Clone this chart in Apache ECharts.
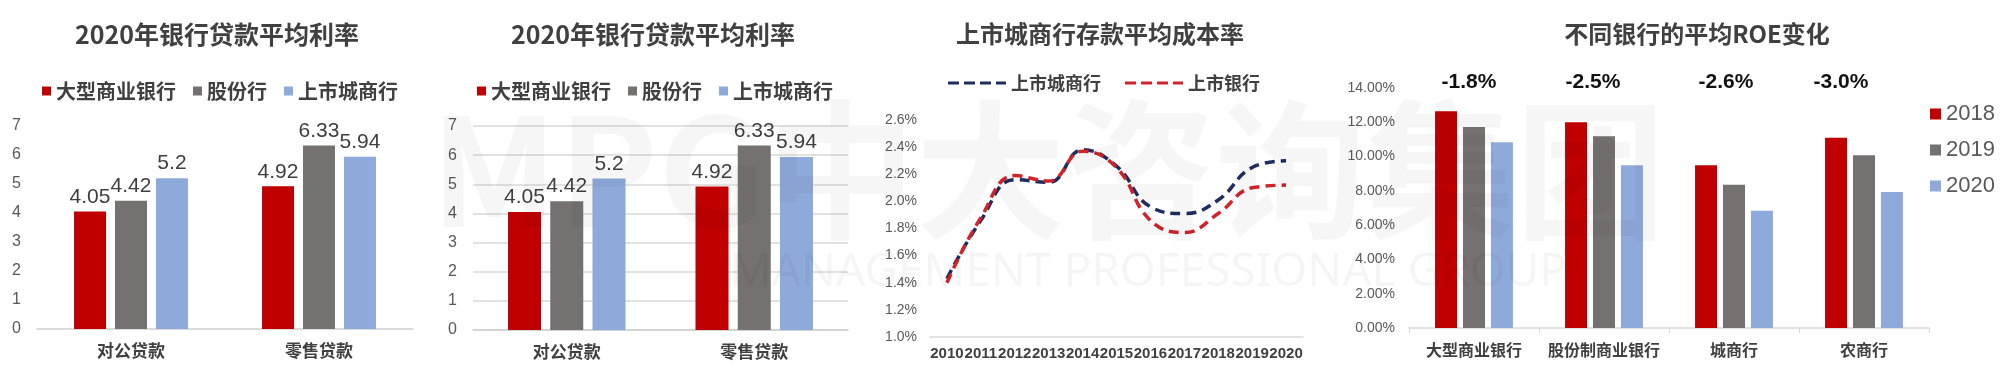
<!DOCTYPE html>
<html>
<head>
<meta charset="utf-8">
<script src="https://cdn.jsdelivr.net/npm/echarts@6/dist/echarts.min.js"></script>
<style>
html,body{margin:0;padding:0;background:#fff;}
#c{width:2000px;height:386px;}
</style>
</head>
<body>
<div id="c"></div>
<script>
// ---- data ----
const loanCats = ['对公贷款', '零售贷款'];
const loanNames = ['大型商业银行', '股份行', '上市城商行'];
const loanBig = [4.05, 4.92];
const loanShare = [4.42, 6.33];
const loanCity = [5.2, 5.94];

const years = ['2010','2011','2012','2013','2014','2015','2016','2017','2018','2019','2020'];
const depNames = ['上市城商行', '上市银行'];
const depCity = [1.43, 1.86, 2.16, 2.14, 2.38, 2.26, 1.96, 1.91, 2.01, 2.25, 2.30];
const depListed = [1.40, 1.88, 2.19, 2.15, 2.37, 2.25, 1.86, 1.77, 1.91, 2.10, 2.12];

const roeCats = ['大型商业银行', '股份制商业银行', '城商行', '农商行'];
const roeYears = ['2018', '2019', '2020'];
const roe2018 = [12.64, 12.0, 9.49, 11.1];
const roe2019 = [11.72, 11.18, 8.36, 10.08];
const roe2020 = [10.83, 9.49, 6.84, 7.93];
const roeChange = ['-1.8%', '-2.5%', '-2.6%', '-3.0%'];

// ---- style ----
const RED = '#c00000', GRAY = '#767171', BLUE = '#8eaadb';
const NAVY = '#1f2d5f', DRED = '#d2222a';
const CJK = '"Noto Sans CJK SC", sans-serif';
const LAT = '"Liberation Sans", Arial, sans-serif';
const TXT = '#404040';
const DASH_ICON = 'path://M0,0h11v3h-11zM16,0h11v3h-11zM32,0h11v3h-11zM48,0h10v3h-10z';

const chart = echarts.init(document.getElementById('c'), null, {renderer: 'canvas'});

function titleAt(text, cx, size) {
  return {text, left: cx, top: 22, padding: 0, textAlign: 'center',
    textStyle: {fontFamily: CJK, fontWeight: 'bold', fontSize: size, color: TXT}};
}
function barLabel() {
  return {show: true, position: 'top', distance: 4, color: TXT, fontSize: 21, fontFamily: LAT};
}
function loanSeries(gi) {
  const bw = gi === 0 ? 32 : 33;
  return [
    {name: loanNames[0], type: 'bar', xAxisIndex: gi, yAxisIndex: gi, data: loanBig, barWidth: bw, barGap: '28%', itemStyle: {color: RED}, label: barLabel()},
    {name: loanNames[1], type: 'bar', xAxisIndex: gi, yAxisIndex: gi, data: loanShare, barWidth: bw, barGap: '28%', itemStyle: {color: GRAY}, label: barLabel()},
    {name: loanNames[2], type: 'bar', xAxisIndex: gi, yAxisIndex: gi, data: loanCity, barWidth: bw, barGap: '28%', itemStyle: {color: BLUE}, label: barLabel()}
  ];
}
function loanX(gi) {
  return {type: 'category', gridIndex: gi, data: loanCats,
    axisLine: {lineStyle: {color: '#d0d0d0', width: 1.5}}, axisTick: {show: false},
    axisLabel: {margin: 13, color: TXT, fontFamily: CJK, fontWeight: 'bold', fontSize: 17}};
}
function loanY(gi, grid) {
  return {type: 'value', gridIndex: gi, min: 0, max: 7, interval: 1,
    axisLine: {show: false}, axisTick: {show: false},
    splitLine: {show: grid, lineStyle: {color: '#d9d9d9', width: 1.5}},
    axisLabel: {margin: 16, color: '#595959', fontFamily: LAT, fontSize: 16}};
}
const legendText = {color: TXT, fontFamily: CJK, fontWeight: 'bold', fontSize: 20};

const graphics = [];
// watermark
graphics.push({type: 'text', left: 430, top: 95, silent: true, z: 100,
  style: {text: 'MPG中大咨询集团', font: 'bold 150px "Noto Sans CJK SC", sans-serif', fill: 'rgba(0,0,0,0.035)'}});
graphics.push({type: 'text', left: 730, top: 250, silent: true, z: 100,
  style: {text: 'MANAGEMENT PROFESSIONAL GROUP', font: '46px "Noto Sans", sans-serif', fill: 'rgba(0,0,0,0.04)'}});
// ROE change annotations
const chgX = [1469, 1593, 1726, 1841];
roeChange.forEach((t, i) => {
  graphics.push({type: 'text', x: chgX[i], y: 82, z: 50,
    style: {text: t, textAlign: 'center', textVerticalAlign: 'middle',
      font: 'bold 21px "Liberation Sans", Arial, sans-serif', fill: '#111'}});
});

const option = {
  backgroundColor: '#fff',
  animation: false,
  title: [
    titleAt('2020年银行贷款平均利率', 217, 25),
    titleAt('2020年银行贷款平均利率', 653, 25),
    titleAt('上市城商行存款平均成本率', 1100, 24),
    titleAt('不同银行的平均ROE变化', 1697, 24)
  ],
  legend: [
    {data: loanNames, left: 37, top: 76, itemWidth: 9, itemHeight: 9, itemGap: 17, icon: 'rect', textStyle: legendText, selectedMode: false},
    {data: loanNames, left: 472, top: 76, itemWidth: 9, itemHeight: 9, itemGap: 17, icon: 'rect', textStyle: legendText, selectedMode: false},
    {data: [
        {name: depNames[0], icon: DASH_ICON, itemStyle: {color: NAVY, borderWidth: 0}},
        {name: depNames[1], icon: DASH_ICON, itemStyle: {color: DRED, borderWidth: 0}}
      ],
      left: 943, top: 69, itemWidth: 58, itemHeight: 3, itemGap: 24,
      textStyle: Object.assign({}, legendText, {fontSize: 18}), selectedMode: false},
    {data: roeYears, left: 1925, top: 98, orient: 'vertical', itemWidth: 11, itemHeight: 11, itemGap: 14, icon: 'rect',
      textStyle: {color: '#595959', fontFamily: LAT, fontSize: 22}, selectedMode: false}
  ],
  grid: [
    {left: 37, top: 126, width: 376, height: 203},
    {left: 473, top: 126, width: 375, height: 204},
    {left: 930, top: 120, width: 373, height: 217},
    {left: 1409, top: 88, width: 520, height: 240}
  ],
  xAxis: [
    loanX(0), loanX(1),
    {type: 'category', gridIndex: 2, data: years, boundaryGap: true,
      axisLine: {lineStyle: {color: '#d9d9d9', width: 1.5}}, axisTick: {show: false},
      axisLabel: {interval: 0, margin: 9, color: TXT, fontFamily: LAT, fontWeight: 'bold', fontSize: 15}},
    {type: 'category', gridIndex: 3, data: roeCats,
      axisLine: {lineStyle: {color: '#d9d9d9', width: 1.5}},
      axisTick: {show: true, length: 5, lineStyle: {color: '#d9d9d9'}},
      axisLabel: {interval: 0, margin: 14, color: TXT, fontFamily: CJK, fontWeight: 'bold', fontSize: 16}}
  ],
  yAxis: [
    loanY(0, false), loanY(1, true),
    {type: 'value', gridIndex: 2, min: 1.0, max: 2.6, interval: 0.2,
      axisLine: {show: false}, axisTick: {show: false}, splitLine: {show: false},
      axisLabel: {margin: 13, color: '#595959', fontFamily: LAT, fontSize: 14,
        formatter: v => v.toFixed(1) + '%'}},
    {type: 'value', gridIndex: 3, min: 0, max: 14, interval: 2,
      axisLine: {show: false}, axisTick: {show: false}, splitLine: {show: false},
      axisLabel: {margin: 14, color: '#595959', fontFamily: LAT, fontSize: 14,
        formatter: v => v.toFixed(2) + '%'}}
  ],
  series: [].concat(
    loanSeries(0), loanSeries(1),
    [
      {name: depNames[0], type: 'line', xAxisIndex: 2, yAxisIndex: 2, data: depCity, smooth: 0.45,
        showSymbol: false, symbol: 'none', itemStyle: {color: NAVY},
        lineStyle: {color: NAVY, width: 3.5, type: [10, 6]}},
      {name: depNames[1], type: 'line', xAxisIndex: 2, yAxisIndex: 2, data: depListed, smooth: 0.45,
        showSymbol: false, symbol: 'none', itemStyle: {color: DRED},
        lineStyle: {color: DRED, width: 3.5, type: [10, 6]}},
      {name: roeYears[0], type: 'bar', xAxisIndex: 3, yAxisIndex: 3, data: roe2018, barWidth: 22, barGap: '27%', itemStyle: {color: RED}},
      {name: roeYears[1], type: 'bar', xAxisIndex: 3, yAxisIndex: 3, data: roe2019, barWidth: 22, barGap: '27%', itemStyle: {color: GRAY}},
      {name: roeYears[2], type: 'bar', xAxisIndex: 3, yAxisIndex: 3, data: roe2020, barWidth: 22, barGap: '27%', itemStyle: {color: BLUE}}
    ]
  ),
  graphic: graphics
};
chart.setOption(option);
</script>
</body>
</html>
